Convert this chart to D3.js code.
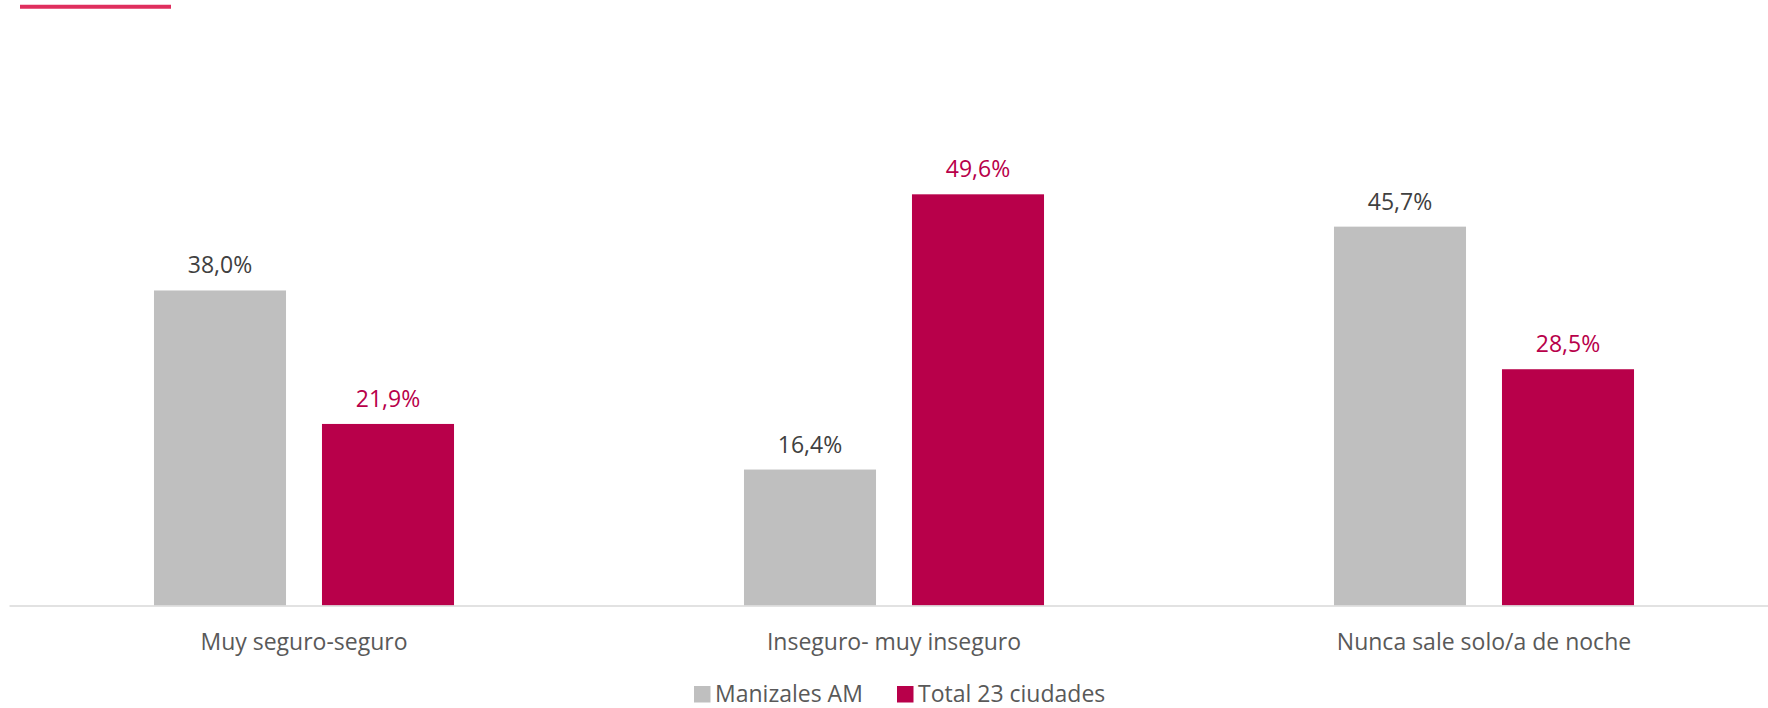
<!DOCTYPE html>
<html lang="es">
<head>
    <meta charset="utf-8">
    <title>Percepción de seguridad</title>
    <script src="https://d3js.org/d3.v7.min.js"></script>
    <style>
        html, body { margin: 0; padding: 0; background: #fff; }
        svg { display: block; font-family: "Open Sans", "Noto Sans", sans-serif; }
        .cat-axis text { font-size: 23px; fill: #595959; }
        .cat-axis path { stroke: #d9d9d9; stroke-width: 1.5; }
        .value-label { font-size: 23px; }
        .legend-text { font-size: 23px; fill: #595959; }
    </style>
</head>
<body>
<svg id="chart" width="1768" height="708"></svg>
<script>
    // Data
    const categories = ["Muy seguro-seguro", "Inseguro- muy inseguro", "Nunca sale solo/a de noche"];
    const seriesNames = ["Manizales AM", "Total 23 ciudades"];
    const manizales = [38.0, 16.4, 45.7];
    const total23 = [21.9, 49.6, 28.5];

    const colors = { "Manizales AM": "#bfbfbf", "Total 23 ciudades": "#b8004a" };
    const labelColors = { "Manizales AM": "#404040", "Total 23 ciudades": "#b8004a" };

    const rows = categories.map((c, i) => ({
        category: c,
        values: [
            { series: seriesNames[0], value: manizales[i] },
            { series: seriesNames[1], value: total23[i] }
        ]
    }));

    const svg = d3.select("#chart");
    const fmt = v => v.toFixed(1).replace(".", ",") + "%";

    // decorative accent line at the top-left
    svg.append("line")
        .attr("x1", 20).attr("x2", 171)
        .attr("y1", 6.8).attr("y2", 6.8)
        .attr("stroke", "#df2e5e")
        .attr("stroke-width", 4);

    const x0 = d3.scaleBand()
        .domain(categories)
        .range([9, 1779])
        .paddingInner(0)
        .paddingOuter(0);

    const x1 = d3.scaleBand()
        .domain(seriesNames)
        .range([0, x0.bandwidth()])
        .paddingInner(0.214)
        .paddingOuter(0.863);

    const y = d3.scaleLinear()
        .domain([0, 50])
        .range([605.5, 191]);

    const groups = svg.append("g")
        .selectAll("g")
        .data(rows)
        .join("g")
        .attr("transform", d => `translate(${x0(d.category)},0)`);

    groups.selectAll("rect")
        .data(d => d.values)
        .join("rect")
        .attr("x", d => x1(d.series))
        .attr("y", d => y(d.value))
        .attr("width", x1.bandwidth())
        .attr("height", d => y(0) - y(d.value))
        .attr("fill", d => colors[d.series]);

    groups.selectAll("text")
        .data(d => d.values)
        .join("text")
        .attr("class", "value-label")
        .attr("x", d => x1(d.series) + x1.bandwidth() / 2)
        .attr("y", d => y(d.value) - 17)
        .attr("text-anchor", "middle")
        .attr("fill", d => labelColors[d.series])
        .text(d => fmt(d.value));

    // category axis
    const axis = svg.append("g")
        .attr("class", "cat-axis")
        .attr("transform", `translate(0,${y(0)})`)
        .call(d3.axisBottom(x0).tickSize(0).tickPadding(28));
    axis.attr("font-family", null).attr("font-size", null);
    axis.selectAll("text").attr("font-family", null).attr("font-size", null);

    // legend
    const legendItems = [
        { name: seriesNames[0], x: 694 },
        { name: seriesNames[1], x: 897 }
    ];
    const legend = svg.append("g")
        .selectAll("g")
        .data(legendItems)
        .join("g")
        .attr("transform", d => `translate(${d.x},686)`);

    legend.append("rect")
        .attr("width", 16.5)
        .attr("height", 16.5)
        .attr("fill", d => colors[d.name]);

    legend.append("text")
        .attr("class", "legend-text")
        .attr("x", 21)
        .attr("y", 16)
        .text(d => d.name);
</script>
</body>
</html>
